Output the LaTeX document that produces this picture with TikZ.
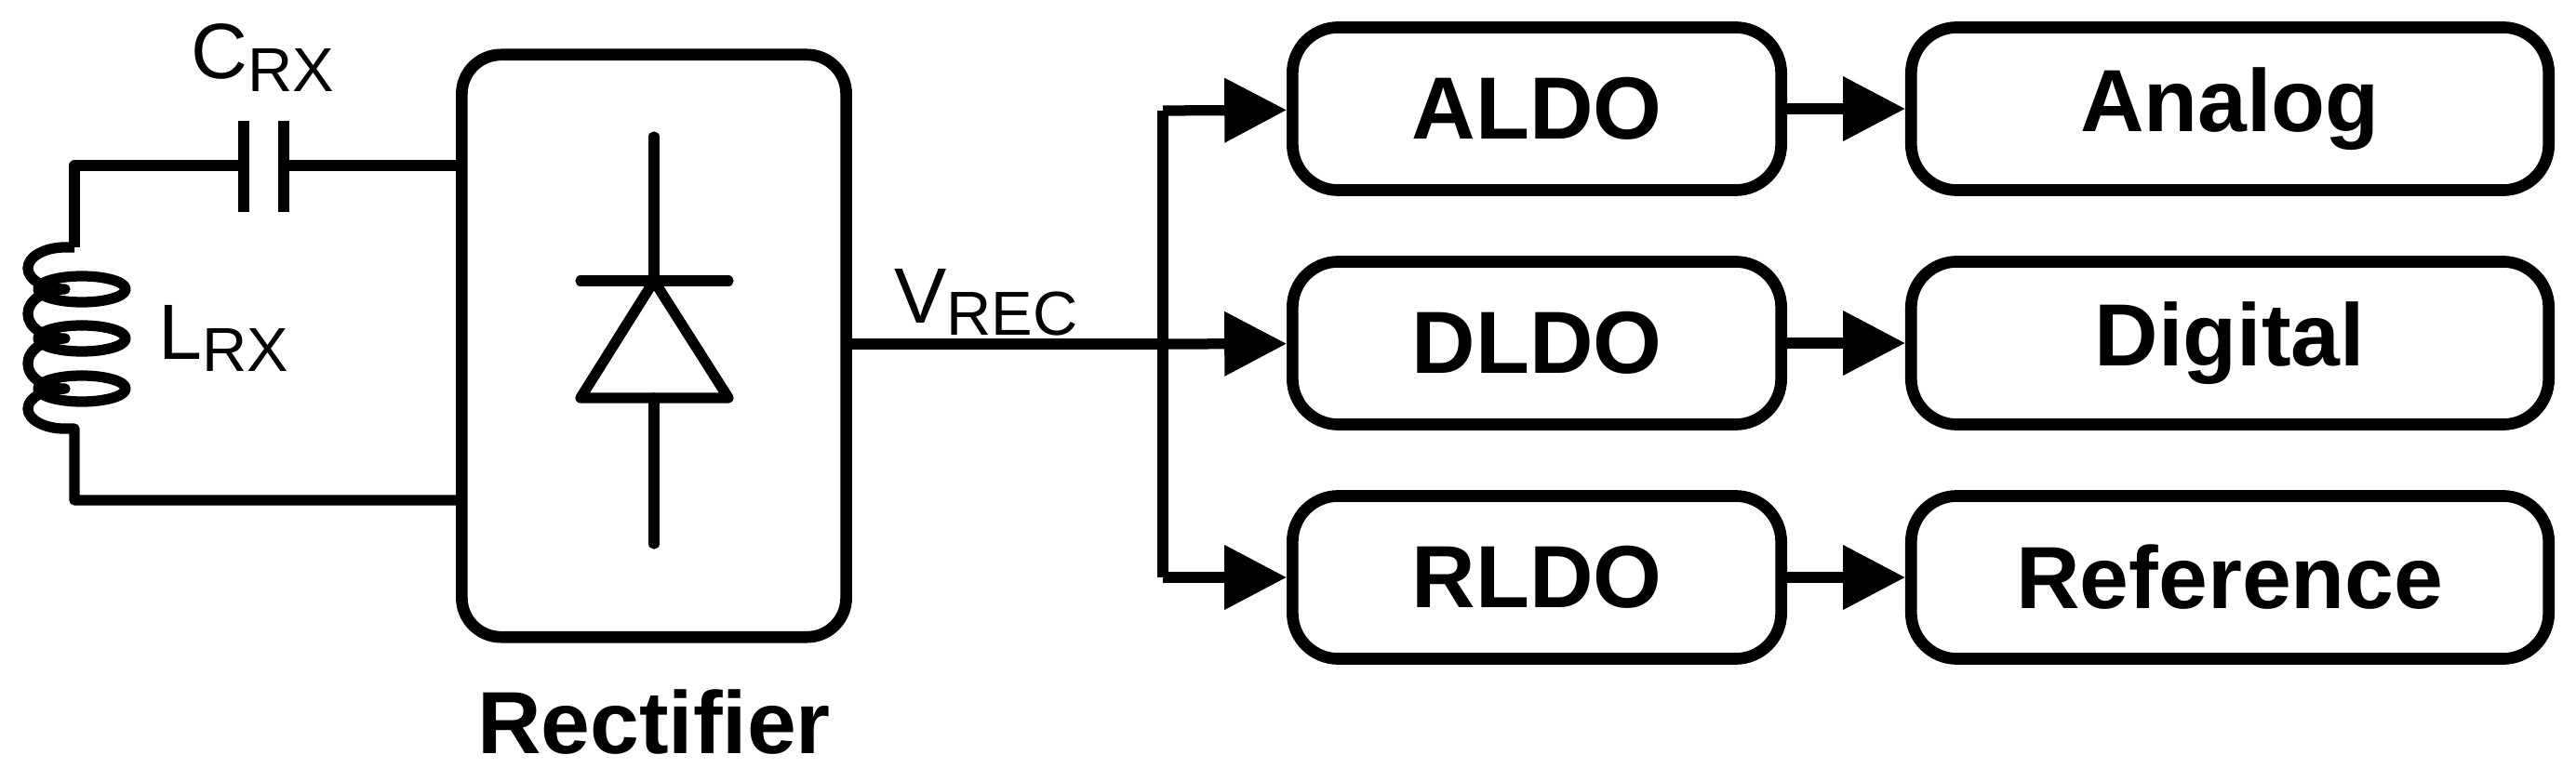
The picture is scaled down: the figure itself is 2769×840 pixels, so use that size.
\documentclass[tikz,border=0pt]{standalone}
\usepackage{fontspec}
\setmainfont{Liberation Sans}
\usetikzlibrary{arrows.meta}
\begin{document}
\begin{tikzpicture}[x=0.01cm,y=-0.01cm,line join=round,
  w/.style={line width=3.2pt},
  box/.style={draw,line width=3.6pt,rounded corners=14pt,inner sep=0pt,minimum width=5.25cm,minimum height=1.75cm},
  rbox/.style={box,minimum width=6.85cm},
  lbl/.style={font=\fontsize{27}{30}\selectfont\bfseries},
  sl/.style={font=\fontsize{24}{28}\selectfont},
  arr/.style={w,-{Triangle[length=19pt,width=19pt]}}]
\useasboundingbox (0,0) rectangle (2769,840);
% rectifier
\node[draw,line width=3.6pt,rounded corners=12pt,minimum width=4.13cm,minimum height=6.26cm] (rect) at (703,372) {};
\node[lbl] (rl) at (703,777) {Rectifier};
\coordinate (rin1) at (496,178);
\coordinate (rin2) at (496,538);
\coordinate (rout) at (909,370);
% diode
\draw[w,line cap=round] (703,147) -- (703,302);
\draw[w,line cap=round] (703,428) -- (703,585);
\draw[w,line cap=round] (624,302) -- (783,302);
\draw[w] (703,302) -- (783,428) -- (624,428) -- cycle;
% capacitor
\draw[w] (262,130) -- (262,228);
\draw[w] (305,130) -- (305,228);
\draw[w] (262,178) -- (80,178) -- (80,266);
\draw[w] (305,178) -- (rin1);
\node[sl] (cl) at (282,62) {C\raisebox{-0.3ex}{\fontsize{19}{22}\selectfont RX}};
% inductor
\draw[w] (80,266) -- (70,266) arc[start angle=90,end angle=270,x radius=0.4cm,y radius=0.225cm]
  arc[start angle=90,end angle=270,x radius=0.4cm,y radius=0.265cm]
  arc[start angle=90,end angle=270,x radius=0.4cm,y radius=0.27cm]
  arc[start angle=90,end angle=270,x radius=0.4cm,y radius=0.215cm] -- (80,461) -- (80,538) -- (rin2);
\foreach \yy in {311,364,418} \draw[w] (88,\yy) ellipse[x radius=0.47cm,y radius=0.14cm];
\node[sl] (ll) at (240,364) {L\raisebox{-0.3ex}{\fontsize{19}{22}\selectfont RX}};
% output
\coordinate (bus) at (1250,370);
\coordinate (bt) at (1250,119);
\coordinate (bb) at (1250,621);
\draw[w] (rout) -- (bus);
\node[sl] (vl) at (1060,325) {V\raisebox{-0.3ex}{\fontsize{19}{22}\selectfont REC}};
\draw[w] (bt) -- (bb);
% boxes
\node[box,lbl] (a) at (1652,117) {ALDO};
\node[box,lbl] (d) at (1652,369) {DLDO};
\node[box,lbl] (r) at (1652,621) {RLDO};
\node[rbox,lbl] (an) at (2397,117) {Analog};
\node[rbox,lbl] (dg) at (2397,369) {Digital};
\node[rbox,lbl] (rf) at (2397,621) {Reference};
\draw[arr] (bt) -- (a);
\draw[arr] (bus) -- (d);
\draw[arr] (bb) -- (r);
\draw[arr] (a) -- (an);
\draw[arr] (d) -- (dg);
\draw[arr] (r) -- (rf);
\end{tikzpicture}
\end{document}
